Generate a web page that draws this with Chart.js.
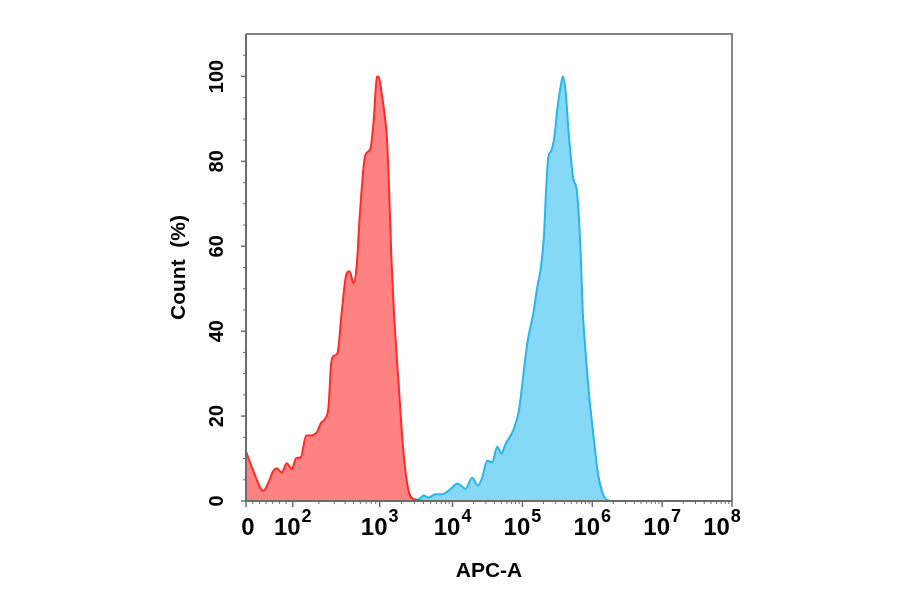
<!DOCTYPE html>
<html>
<head>
<meta charset="utf-8">
<style>
  html, body { margin: 0; padding: 0; background: #fff; }
  #wrap { width: 900px; height: 594px; }
</style>
<script src="https://cdn.jsdelivr.net/npm/chart.js@4/dist/chart.umd.min.js"></script>
</head>
<body>
<div id="wrap"><canvas id="c" width="900" height="594"></canvas></div>
<script>
// x is in display units of the biexponential axis (0 .. 8), ticks below
const X_TICK_POS = [0, 0.77, 2.2, 3.4, 4.55, 5.7, 6.85, 8];
const X_TICK_EXP = [null, 2, 3, 4, 5, 6, 7, 8];
const Y_TICKS = [0, 20, 40, 60, 80, 100];

// unstained / control (red)
const RED_X = [0, 0.12, 0.285, 0.368, 0.45, 0.506, 0.589, 0.671, 0.754, 0.825,
  0.902, 0.99, 1.067, 1.176, 1.232, 1.303, 1.358, 1.402, 1.44, 1.506,
  1.579, 1.65, 1.704, 1.77, 1.826, 1.869, 1.963, 2.045, 2.1, 2.156,
  2.182, 2.238, 2.276, 2.321, 2.359, 2.392, 2.43, 2.512, 2.585, 2.651,
  2.705, 2.816, 2.95];
const RED_Y = [11.7, 7.1, 2.4, 4.3, 7.1, 7.7, 6.7, 8.9, 7.5, 10.1,
  10.3, 15.4, 15.4, 16.4, 18.3, 19.4, 22.1, 32.4, 34.1, 34.9,
  45, 53.3, 54.1, 51.3, 56.1, 66.4, 81.4, 82.9, 89.3, 99.9,
  100, 95.6, 91.6, 85.3, 71.9, 57.7, 46, 27.6, 12.6, 4.3,
  1.2, 0.2, 0];

// stained sample (blue)
const BLUE_X = [2.6, 2.651, 2.842, 2.925, 3.007, 3.118, 3.228, 3.365, 3.485, 3.612,
  3.723, 3.815, 3.888, 3.97, 4.053, 4.135, 4.206, 4.272, 4.409, 4.492,
  4.548, 4.63, 4.739, 4.795, 4.849, 4.904, 4.943, 4.976, 5.026, 5.08,
  5.125, 5.179, 5.217, 5.262, 5.306, 5.344, 5.389, 5.443, 5.471, 5.509,
  5.542, 5.575, 5.646, 5.729, 5.795, 5.867, 5.95, 6.05];
const BLUE_Y = [0, 0.2, 0.4, 1.3, 0.8, 1.6, 1.6, 2.8, 4.1, 2.9,
  5.5, 3.6, 5.5, 9.5, 9.1, 12.8, 11.2, 13.4, 17, 21.3,
  27.6, 37.1, 45, 50.5, 54.5, 62.4, 74.2, 81, 82.5, 86.1,
  92.4, 97.6, 100, 96.4, 87.7, 81.4, 75.8, 73.5, 68.7, 58.5,
  45, 37.9, 25.3, 14.2, 6.3, 2, 0.2, 0];

const pts = (xs, ys) => xs.map((x, i) => ({ x, y: ys[i] }));
const FONT = '"Liberation Sans", Arial, sans-serif';

// minor ticks: log steps inside each decade, even steps below 10^2
function minorX() {
  const out = [];
  for (let i = 1; i < X_TICK_POS.length - 1; i++) {
    const a = X_TICK_POS[i], b = X_TICK_POS[i + 1];
    for (let m = 2; m <= 9; m++) out.push(a + Math.log10(m) * (b - a));
  }
  for (let f = 1; f < 7; f++) out.push(X_TICK_POS[1] * f / 7);
  return out;
}

// axes, frame, tick labels and titles
const axisDecor = {
  id: 'axisDecor',
  afterDraw(chart) {
    const { ctx, chartArea: a, scales: { x, y } } = chart;
    ctx.save();
    ctx.lineCap = 'butt';

    // frame top + right
    ctx.strokeStyle = '#858585';
    ctx.lineWidth = 2;
    ctx.beginPath();
    ctx.moveTo(a.left, a.top); ctx.lineTo(a.right, a.top); ctx.lineTo(a.right, a.bottom);
    ctx.stroke();
    // axis lines
    ctx.strokeStyle = '#6b6b6b';
    ctx.beginPath();
    ctx.moveTo(a.left, a.top); ctx.lineTo(a.left, a.bottom); ctx.lineTo(a.right, a.bottom);
    ctx.stroke();

    // x ticks
    ctx.lineWidth = 1.5;
    X_TICK_POS.forEach(v => {
      const px = x.getPixelForValue(v);
      ctx.beginPath(); ctx.moveTo(px, a.bottom); ctx.lineTo(px, a.bottom + 6); ctx.stroke();
    });
    ctx.lineWidth = 1;
    minorX().forEach(v => {
      const px = x.getPixelForValue(v);
      ctx.beginPath(); ctx.moveTo(px, a.bottom); ctx.lineTo(px, a.bottom + 3); ctx.stroke();
    });
    // y ticks
    ctx.lineWidth = 1.5;
    Y_TICKS.forEach(v => {
      const py = y.getPixelForValue(v);
      ctx.beginPath(); ctx.moveTo(a.left - 5, py); ctx.lineTo(a.left, py); ctx.stroke();
    });
    ctx.lineWidth = 1;
    for (let v = 5; v <= 105; v += 5) {
      if (v % 20 === 0) continue;
      const py = y.getPixelForValue(v);
      ctx.beginPath(); ctx.moveTo(a.left - 3, py); ctx.lineTo(a.left, py); ctx.stroke();
    }

    ctx.fillStyle = '#000';
    // x labels: 0, 10^n
    ctx.textBaseline = 'alphabetic';
    ctx.textAlign = 'left';
    X_TICK_POS.forEach((v, i) => {
      const px = Math.min(x.getPixelForValue(v), a.right - 10);
      const base = a.bottom + 34;
      ctx.font = 'bold 24px ' + FONT;
      if (X_TICK_EXP[i] === null) {
        const w = ctx.measureText('0').width;
        ctx.fillText('0', px - w / 2 + 2, base);
        return;
      }
      const w1 = ctx.measureText('10').width;
      ctx.font = 'bold 18px ' + FONT;
      const e = String(X_TICK_EXP[i]);
      const w2 = ctx.measureText(e).width;
      const x0 = px - (w1 + w2 + 1) / 2;
      ctx.font = 'bold 24px ' + FONT;
      ctx.fillText('10', x0, base);
      ctx.font = 'bold 18px ' + FONT;
      ctx.fillText(e, x0 + w1 + 1, base - 13);
    });

    // y labels, rotated
    ctx.font = 'bold 20px ' + FONT;
    ctx.textAlign = 'center';
    ctx.textBaseline = 'middle';
    Y_TICKS.forEach(v => {
      const py = y.getPixelForValue(v);
      ctx.save();
      ctx.translate(a.left - 29, py);
      ctx.rotate(-Math.PI / 2);
      ctx.fillText(String(v), 0, 0);
      ctx.restore();
    });

    // titles
    ctx.font = 'bold 21px ' + FONT;
    ctx.textBaseline = 'alphabetic';
    ctx.fillText('APC-A', (a.left + a.right) / 2, 577);
    ctx.save();
    ctx.translate(185, (a.top + a.bottom) / 2);
    ctx.rotate(-Math.PI / 2);
    ctx.fillText('Count  (%)', 0, 0);
    ctx.restore();

    ctx.restore();
  }
};

new Chart(document.getElementById('c'), {
  type: 'line',
  data: {
    datasets: [
      {
        label: 'Control',
        data: pts(RED_X, RED_Y),
        borderColor: '#ff2a2a',
        backgroundColor: '#ff8282',
        borderWidth: 2,
        fill: 'origin',
        pointRadius: 0,
        cubicInterpolationMode: 'monotone',
      },
      {
        label: 'Sample',
        data: pts(BLUE_X, BLUE_Y),
        borderColor: '#2ab4ea',
        backgroundColor: '#86d8f7',
        borderWidth: 2,
        fill: 'origin',
        pointRadius: 0,
        cubicInterpolationMode: 'monotone',
      }
    ]
  },
  options: {
    responsive: false,
    animation: false,
    layout: { padding: { left: 246, top: 34, right: 168, bottom: 93 } },
    plugins: { legend: { display: false }, tooltip: { enabled: false } },
    scales: {
      x: { type: 'linear', display: false, min: 0, max: 8 },
      y: { type: 'linear', display: false, min: 0, max: 110 }
    }
  },
  plugins: [axisDecor]
});
</script>
</body>
</html>
